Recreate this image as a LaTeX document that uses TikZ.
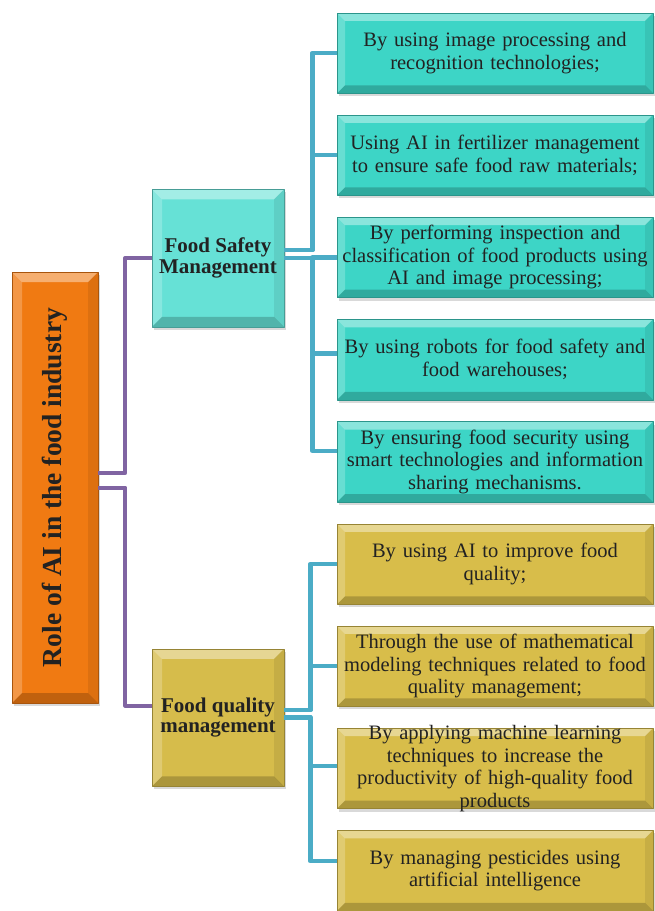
\documentclass[tikz,border=0pt]{standalone}
\usepackage{fontspec}
\setmainfont{Liberation Serif}
\usetikzlibrary{positioning,shadows}

\definecolor{leafteal}{HTML}{3DD5C6}
\definecolor{midteal}{HTML}{66E1D6}
\definecolor{leafgold}{HTML}{D8BD4A}
\definecolor{midgold}{HTML}{D6BC4B}
\definecolor{rootorange}{HTML}{F07A12}
\definecolor{linepurple}{HTML}{8064A2}
\definecolor{lineblue}{HTML}{4BACC6}
\definecolor{textdark}{HTML}{222222}

\tikzset{
  bevel/.style={path picture={
      \fill[white,opacity=.4] (path picture bounding box.north west) -- (path picture bounding box.north east)
        -- ([shift={(-#1,-#1)}]path picture bounding box.north east) -- ([shift={(#1,-#1)}]path picture bounding box.north west) -- cycle;
      \fill[white,opacity=.22] (path picture bounding box.north west) -- ([shift={(#1,-#1)}]path picture bounding box.north west)
        -- ([shift={(#1,#1)}]path picture bounding box.south west) -- (path picture bounding box.south west) -- cycle;
      \fill[black,opacity=.2] (path picture bounding box.south west) -- (path picture bounding box.south east)
        -- ([shift={(-#1,#1)}]path picture bounding box.south east) -- ([shift={(#1,#1)}]path picture bounding box.south west) -- cycle;
      \fill[black,opacity=.08] (path picture bounding box.north east) -- ([shift={(-#1,-#1)}]path picture bounding box.north east)
        -- ([shift={(-#1,#1)}]path picture bounding box.south east) -- (path picture bounding box.south east) -- cycle;
    }},
  bevel/.default=8pt
}

\begin{document}
\begin{tikzpicture}[x=1pt,y=-1pt,node distance=102.2pt,
    line join=round]
    \tikzstyle{box}=[rectangle,bevel,text=textdark,align=center,
      drop shadow={shadow xshift=2pt,shadow yshift=-3pt,opacity=.3}]
    \tikzstyle{leaf}=[box,minimum width=316pt,minimum height=80.5pt,text width=316pt,
      inner sep=0pt,font=\fontsize{20.5}{22.5}\selectfont]
    \tikzstyle{safe leaf}=[leaf,fill=leafteal,draw=leafteal!70!black,line width=.5pt]
    \tikzstyle{quality leaf}=[leaf,fill=leafgold,draw=leafgold!70!black,line width=.5pt]
    \tikzstyle{mid}=[box,bevel=10pt,minimum width=132pt,minimum height=137.5pt,inner sep=0pt,
      font=\bfseries\fontsize{21}{20.5}\selectfont,line width=.5pt]
    \tikzstyle{purplelink}=[draw=linepurple,line width=4pt]
    \tikzstyle{bluelink}=[draw=lineblue,line width=4.5pt]

    \useasboundingbox (0,0) rectangle (654,911);

    % root
    \node[box,bevel=10pt,fill=rootorange,draw=rootorange!70!black,line width=.5pt,
      minimum width=86pt,minimum height=431pt,inner sep=0pt,font=\bfseries\fontsize{27.5}{30}\selectfont]
      (root) at (55,487.5) {\rotatebox{90}{Role of AI in the food industry}};

    % middle level
    \node[mid,fill=midteal,draw=midteal!70!black] (fs) at (218,258) {Food Safety\\Management};
    \node[mid,fill=midgold,draw=midgold!70!black] (fq) at (218,717.5) {Food quality\\management};

    % leaves
    \node[safe leaf] (s1) at (495,53) {By using image processing and\\recognition technologies;};
    \node[safe leaf] (s2) [below of=s1] {Using AI in fertilizer management\\to ensure safe food raw materials;};
    \node[safe leaf] (s3) [below of=s2] {By performing inspection and\\classification of food products using\\AI and image processing;};
    \node[safe leaf] (s4) [below of=s3] {By using robots for food safety and\\food warehouses;};
    \node[safe leaf] (s5) [below of=s4] {By ensuring food security using\\smart technologies and information\\sharing mechanisms.};
    \node[quality leaf] (g1) [below of=s5] {By using AI to improve food\\quality;};
    \node[quality leaf] (g2) [below of=g1] {Through the use of mathematical\\modeling techniques related to food\\quality management;};
    \node[quality leaf] (g3) [below of=g2] {\parbox[c][50pt][c]{316pt}{\centering By applying machine learning\\techniques to increase the\\productivity of high-quality food\\products}};
    \node[quality leaf] (g4) [below of=g3] {By managing pesticides using\\artificial intelligence};

    % connectors
    \draw[purplelink] ([yshift=14.5pt]root.east) -- ++(27pt,0) |- (fs.west);
    \draw[purplelink] (root.east) -- ++(27pt,0) |- ([yshift=12pt]fq.west);

    \foreach \n in {s1,s2}
      \draw[bluelink] ([yshift=8pt]fs.east) -- ++(28pt,0) |- (\n.west);
    \foreach \n/\dy in {s3/0,s4/6,s5/11}
      \draw[bluelink] (fs.east) -- ++(28pt,0) |- ([yshift=\dy pt]\n.west);

    \foreach \n in {g1,g2}
      \draw[bluelink] ([yshift=7.5pt]fq.east) -- ++(26pt,0) |- (\n.west);
    \foreach \n/\dy in {g3/2.5,g4/9.5}
      \draw[bluelink] (fq.east) -- ++(26pt,0) |- ([yshift=\dy pt]\n.west);
\end{tikzpicture}
\end{document}
